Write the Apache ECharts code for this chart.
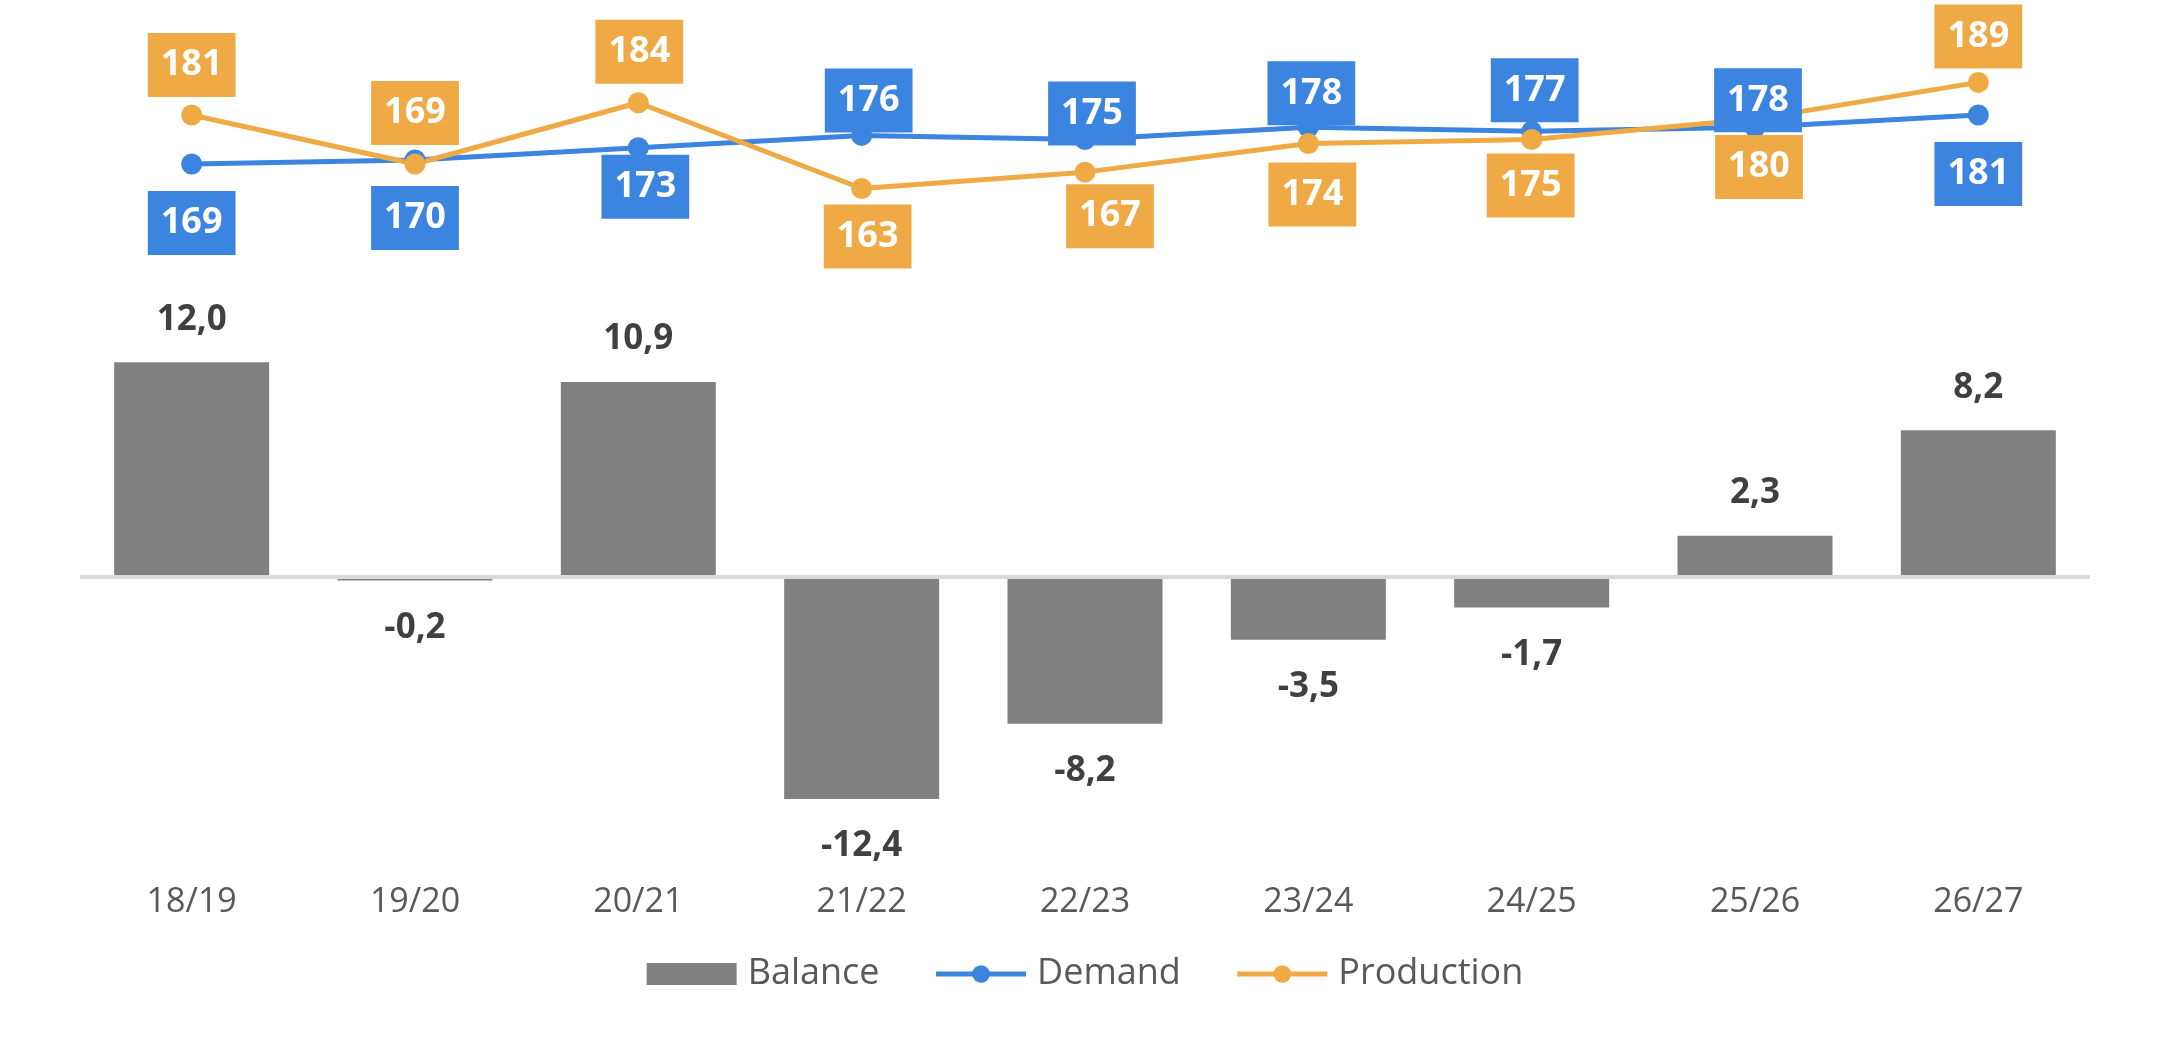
<!DOCTYPE html>
<html>
<head>
<meta charset="utf-8">
<script src="https://cdn.jsdelivr.net/npm/echarts@6/dist/echarts.min.js"></script>
<style>
  html, body { margin: 0; padding: 0; background: #fff; }
  #main { width: 2170px; height: 1039px; }
</style>
</head>
<body>
<div id="main"></div>
<script>
var categories = ['18/19', '19/20', '20/21', '21/22', '22/23', '23/24', '24/25', '25/26', '26/27'];
var balance = [12.0, -0.2, 10.9, -12.4, -8.2, -3.5, -1.7, 2.3, 8.2];
var demand = [169, 170, 173, 176, 175, 178, 177, 178, 181];
var production = [181, 169, 184, 163, 167, 174, 175, 180, 189];

// box label placement around each point (hand tuned like the original)
var demandOffset = [[0, 59], [0, 58], [7, 39], [7, -35], [7, -26], [3, -34], [3, -41], [3, -27], [0, 59]];
var productionOffset = [[0, -50], [0, -51], [1, -51], [6, 48], [25, 44], [4, 51], [-1, 46], [4, 48], [0, -46]];

var FONT = '"Open Sans", sans-serif';
var BLUE = '#3b84df';
var ORANGE = '#efaa45';
var GREY = '#808080';

function fmt(v) {
    return v.toFixed(1).replace('.', ',');
}

function boxLabel(color) {
    return {
        show: true,
        position: 'inside',
        formatter: '{c}',
        color: '#fff',
        backgroundColor: color,
        fontFamily: FONT,
        fontWeight: 'bold',
        fontSize: 36,
        lineHeight: 40,
        padding: [12, 13]
    };
}

function lineData(values, offsets) {
    return values.map(function (v, i) {
        return { value: v, label: { offset: offsets[i] } };
    });
}

var myChart = echarts.init(document.getElementById('main'));

var option = {
    animation: false,
    backgroundColor: '#fff',
    grid: [
        { left: 80, right: 80, top: 37.5, height: 204 },
        { left: 80, right: 80, top: 326.4, height: 537 }
    ],
    legend: {
        data: [{ name: 'Balance', icon: 'rect' }, 'Demand', 'Production'],
        bottom: 42,
        left: 'center',
        itemWidth: 90,
        itemHeight: 22,
        itemGap: 54,
        lineStyle: { width: 5 },
        textStyle: { fontFamily: FONT, fontSize: 36, color: '#595959', padding: [0, 0, 0, 6] }
    },
    xAxis: [
        {
            type: 'category', gridIndex: 0, data: categories,
            show: false
        },
        {
            type: 'category', gridIndex: 1, data: categories,
            axisLine: { show: false, onZero: false },
            axisTick: { show: false },
            axisLabel: { fontFamily: FONT, fontSize: 34, color: '#595959', margin: 22 }
        }
    ],
    yAxis: [
        { type: 'value', gridIndex: 0, min: 150, max: 200, show: false },
        { type: 'value', gridIndex: 1, min: -16, max: 14, show: false }
    ],
    series: [
        {
            name: 'Balance',
            type: 'bar',
            xAxisIndex: 1,
            yAxisIndex: 1,
            barWidth: 155,
            itemStyle: { color: GREY },
            label: {
                show: true,
                fontFamily: FONT,
                fontWeight: 'bold',
                fontSize: 35,
                color: '#404040',
                formatter: function (p) { return fmt(p.value); }
            },
            data: balance.map(function (v) {
                return {
                    value: v,
                    label: { position: v < 0 ? 'bottom' : 'top', distance: v < 0 ? 30 : 25 }
                };
            }),
            markLine: {
                silent: true,
                symbol: 'none',
                label: { show: false },
                lineStyle: { color: '#d9d9d9', width: 4, type: 'solid' },
                data: [{ yAxis: 0 }]
            }
        },
        {
            name: 'Demand',
            type: 'line',
            xAxisIndex: 0,
            yAxisIndex: 0,
            symbol: 'circle',
            symbolSize: 21,
            itemStyle: { color: BLUE },
            lineStyle: { color: BLUE, width: 5 },
            label: boxLabel(BLUE),
            data: lineData(demand, demandOffset)
        },
        {
            name: 'Production',
            type: 'line',
            xAxisIndex: 0,
            yAxisIndex: 0,
            symbol: 'circle',
            symbolSize: 21,
            itemStyle: { color: ORANGE },
            lineStyle: { color: ORANGE, width: 5 },
            label: boxLabel(ORANGE),
            data: lineData(production, productionOffset)
        }
    ]
};

myChart.setOption(option);
</script>
</body>
</html>
